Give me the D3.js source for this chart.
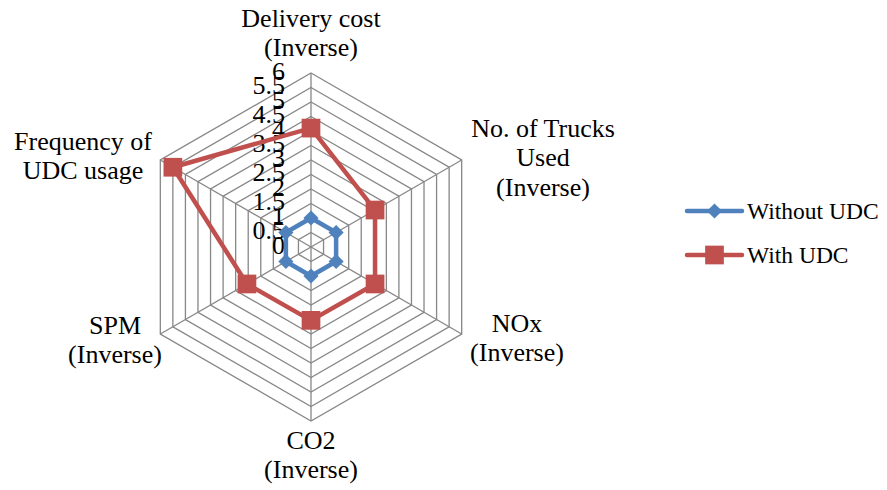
<!DOCTYPE html>
<html>
<head>
<meta charset="utf-8">
<script src="https://cdn.jsdelivr.net/npm/d3@7"></script>
<style>
  html, body { margin: 0; padding: 0; background: #fff; }
  svg { display: block; }
</style>
</head>
<body>
<svg id="chart" width="887" height="490"></svg>
<script>
// Radar axes, clockwise from the top
const axes = [
  ["Delivery cost", "(Inverse)"],
  ["No. of Trucks", "Used", "(Inverse)"],
  ["NOx", "(Inverse)"],
  ["CO2", "(Inverse)"],
  ["SPM", "(Inverse)"],
  ["Frequency of", "UDC usage"]
];
const seriesNames = ["Without UDC", "With UDC"];
const withoutUDC = [1, 1, 1, 1, 1, 1];
const withUDC = [4.1, 2.55, 2.55, 2.53, 2.55, 5.5];
const ticks = [0, 0.5, 1, 1.5, 2, 2.5, 3, 3.5, 4, 4.5, 5, 5.5, 6];
const colors = ["#4F81BD", "#C0504D"];

const FONT = "'Liberation Serif', Tinos, 'Times New Roman', serif";
const svg = d3.select("#chart").attr("font-family", FONT);
const cx = 311, cy = 247, R = 174;
const r = d3.scaleLinear().domain([0, 6]).range([0, R]);
const angle = d3.scaleLinear().domain([0, axes.length]).range([0, 2 * Math.PI]);
const pt = (i, v) => [cx + r(v) * Math.sin(angle(i)), cy - r(v) * Math.cos(angle(i))];

// Grid rings (hexagons) and spokes
const g = svg.append("g");
ticks.slice(1).forEach(t => {
  g.append("polygon")
    .attr("points", axes.map((_, i) => pt(i, t).join(",")).join(" "))
    .attr("fill", "none").attr("stroke", "#878787").attr("stroke-width", 1.3);
});
axes.forEach((_, i) => {
  const [x, y] = pt(i, 6);
  g.append("line").attr("x1", cx).attr("y1", cy).attr("x2", x).attr("y2", y)
    .attr("stroke", "#878787").attr("stroke-width", 1.3);
});

// Radial tick labels
svg.append("g").selectAll("text").data(ticks).join("text")
  .attr("x", cx - 26)
  .attr("y", d => cy - r(d) - 2)
  .attr("text-anchor", "end")
  .attr("dominant-baseline", "central")
  .attr("font-family", FONT)
  .attr("font-size", 26)
  .text(d => d);

// Category labels
const labelPos = [[311, 18], [543, 128], [517, 323], [311, 440], [115, 325], [83, 141]];
axes.forEach((lines, i) => {
  const t = svg.append("text")
    .attr("text-anchor", "middle")
    .attr("font-family", FONT)
    .attr("font-size", 26);
  lines.forEach((ln, k) => {
    t.append("tspan").attr("x", labelPos[i][0]).attr("y", labelPos[i][1] + k * 29.5)
      .attr("dominant-baseline", "central").text(ln);
  });
});

// Series: blue diamonds (rotated squares) and red squares
const line = d3.line().curve(d3.curveLinearClosed);
const square = d3.symbol().type(d3.symbolSquare).size(350);
const diamond = d3.symbol().type(d3.symbolSquare).size(115);
const marker = (sel, s, x, y) => sel.append("path")
  .attr("d", s === 0 ? diamond : square)
  .attr("transform", `translate(${x},${y})` + (s === 0 ? " rotate(45)" : ""))
  .attr("fill", colors[s]);

[withoutUDC, withUDC].forEach((vals, s) => {
  const pts = vals.map((v, i) => pt(i, v));
  svg.append("path").attr("d", line(pts))
    .attr("fill", "none").attr("stroke", colors[s]).attr("stroke-width", 4.5)
    .attr("stroke-linejoin", "round");
  const mg = svg.append("g");
  pts.forEach(p => marker(mg, s, p[0], p[1]));
});

// Legend
const legend = svg.append("g");
seriesNames.forEach((name, s) => {
  const y = 211 + s * 44;
  legend.append("line").attr("x1", 687).attr("x2", 742).attr("y1", y).attr("y2", y)
    .attr("stroke", colors[s]).attr("stroke-width", 4.5).attr("stroke-linecap", "round");
  marker(legend, s, 714.5, y);
  legend.append("text").attr("x", 747).attr("y", y).attr("dominant-baseline", "central")
    .attr("font-family", FONT)
    .attr("font-size", 23.5).text(name);
});
</script>
</body>
</html>
